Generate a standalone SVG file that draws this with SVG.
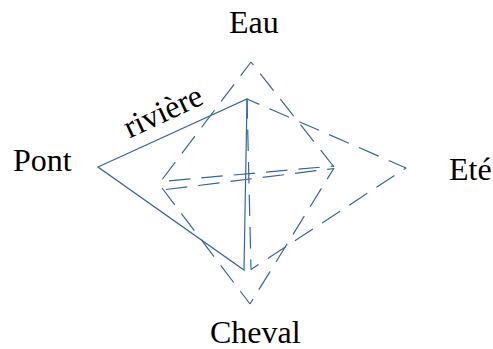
<svg xmlns="http://www.w3.org/2000/svg" width="493" height="349" viewBox="0 0 493 349">
<style>
text{font-family:"Liberation Serif","Times New Roman",serif;font-size:32px;fill:#000}
.s{fill:none;stroke:#3465a4;stroke-width:1.2}
.d{fill:none;stroke:#3465a4;stroke-width:1.2;stroke-dasharray:21.5 11}
</style>
<rect width="493" height="349" fill="#fff"/>
<g id="connectors">
<path class="s" d="M98 167L247 99L244 270Z"/>
<path class="d" stroke-dashoffset="4.5" d="M251 62L161 181"/>
<path class="d" stroke-dashoffset="24.5" d="M161 181.5L334 166"/>
<path class="d" d="M334 167L251 62"/>
<path class="d" stroke-dashoffset="8.5" d="M334 168L250 304"/>
<path class="d" stroke-dashoffset="5.5" d="M250 304L162 188"/>
<path class="d" stroke-dashoffset="28.5" d="M162 190L334 168.5"/>
<path class="d" stroke-dashoffset="8" d="M247 99L406 168"/>
<path class="d" stroke-dashoffset="18.7" d="M406 168L251 269.5"/>
<path class="d" stroke-dashoffset="11.5" d="M251 269.5L247 99"/>
</g>
<g id="node-eau"><text x="229" y="33">Eau</text></g>
<g id="node-ete"><text x="449" y="180">Eté</text></g>
<g id="node-cheval"><text x="210" y="343">Cheval</text></g>
<g id="node-pont"><text x="13" y="171">Pont</text></g>
<g id="label-riviere"><text transform="translate(129.5,138.5) rotate(-25)">rivière</text></g>
</svg>
